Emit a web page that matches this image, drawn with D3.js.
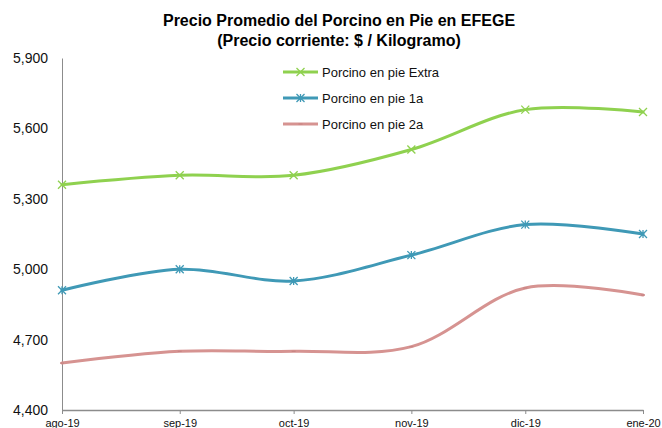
<!DOCTYPE html>
<html>
<head>
<meta charset="utf-8">
<script src="https://cdn.jsdelivr.net/npm/d3@7"></script>
<style>
  body { margin: 0; background: #fff; }
  svg { display: block; font-family: "Liberation Sans", Arial, sans-serif; }
</style>
</head>
<body>
<div id="chart-container"></div>
<script>
// Chart size and margins
const W = 662, H = 428;
const margin = { top: 58, right: 19, bottom: 18, left: 62 },
    width = W - margin.left - margin.right,
    height = H - margin.top - margin.bottom;

// Data
const months = ["2019-08-01", "2019-09-01", "2019-10-01", "2019-11-01", "2019-12-01", "2020-01-01"];
const monthLabels = ["ago-19", "sep-19", "oct-19", "nov-19", "dic-19", "ene-20"];
const extra = [5360, 5400, 5400, 5510, 5680, 5670];
const primera = [4910, 5000, 4950, 5060, 5190, 5150];
const segunda = [4600, 4650, 4650, 4670, 4920, 4890];
const yTicks = [4400, 4700, 5000, 5300, 5600, 5900];
const seriesNames = ["Porcino en pie Extra", "Porcino en pie 1a", "Porcino en pie 2a"];

const colors = ["#8fd14f", "#3f99b6", "#d69391"];
const markers = ["x", "star", "dash"];

function init() {
    const parse = d3.timeParse("%Y-%m-%d");
    const dates = months.map(parse);

    const svg = d3.select("#chart-container")
        .append("svg")
        .attr("width", W)
        .attr("height", H);

    // Title
    const title = svg.append("text")
        .attr("x", 339)
        .attr("text-anchor", "middle")
        .style("font-size", "16px")
        .style("font-weight", "bold");
    title.append("tspan").attr("x", 339).attr("y", 26).text("Precio Promedio del Porcino en Pie en EFEGE");
    title.append("tspan").attr("x", 339).attr("y", 46).text("(Precio corriente: $ / Kilogramo)");

    const g = svg.append("g")
        .attr("transform", `translate(${margin.left},${margin.top})`);

    // Scales
    const xScale = d3.scaleTime()
        .domain(d3.extent(dates))
        .range([0, width]);

    const yScale = d3.scaleLinear()
        .domain([4400, 5900])
        .range([height, 0]);

    // Y axis
    const yAxis = d3.axisLeft(yScale)
        .tickValues(yTicks)
        .tickSize(0)
        .tickPadding(14)
        .tickFormat(d3.format(","));

    const yG = g.append("g").call(yAxis);
    yG.select(".domain").attr("stroke", "#8c8c8c");
    yG.selectAll("text").style("font-size", "14px").attr("fill", "#111");

    // X axis
    const xAxis = d3.axisBottom(xScale)
        .tickValues(dates)
        .tickSize(4)
        .tickSizeOuter(0)
        .tickPadding(5)
        .tickFormat((d, i) => monthLabels[i]);

    const xG = g.append("g")
        .attr("transform", `translate(0,${height})`)
        .call(xAxis);
    xG.select(".domain").attr("stroke", "#8c8c8c").attr("stroke-width", 1.5);
    xG.selectAll(".tick line").attr("stroke", "#8c8c8c");
    xG.selectAll("text").style("font-size", "11px").attr("fill", "#111");

    // Lines
    const allSeries = [extra, primera, segunda];
    const line = d3.line()
        .x((d, i) => xScale(dates[i]))
        .y(d => yScale(d))
        .curve(d3.curveCatmullRom.alpha(0.5));

    // draw bottom series first so the top ones overlap
    allSeries.slice().reverse().forEach((vals, r) => {
        const k = allSeries.length - 1 - r;
        g.append("path")
            .datum(vals)
            .attr("fill", "none")
            .attr("stroke", colors[k])
            .attr("stroke-width", 3)
            .attr("stroke-linecap", "round")
            .attr("d", line);

        g.selectAll(".m" + k)
            .data(vals)
            .enter()
            .append("path")
            .attr("class", "m" + k)
            .attr("transform", (d, i) => `translate(${xScale(dates[i])},${yScale(d)})`)
            .attr("d", markerPath(markers[k]))
            .attr("fill", "none")
            .attr("stroke", markerColor(k))
            .attr("stroke-width", 1.3);
    });

    // Legend
    const legend = svg.append("g").attr("transform", "translate(283,72)");
    seriesNames.forEach((name, k) => {
        const row = legend.append("g").attr("transform", `translate(0,${k * 26})`);
        row.append("line")
            .attr("x1", 0).attr("x2", 35)
            .attr("stroke", colors[k])
            .attr("stroke-width", 3);
        row.append("path")
            .attr("transform", "translate(17.5,0)")
            .attr("d", markerPath(markers[k]))
            .attr("fill", "none")
            .attr("stroke", markerColor(k))
            .attr("stroke-width", 1.3);
        row.append("text")
            .attr("x", 39)
            .attr("y", 0)
            .attr("dy", "0.35em")
            .style("font-size", "13px")
            .attr("fill", "#111")
            .text(name);
    });
}

function markerColor(k) {
    return k === 2 ? "#c98584" : colors[k];
}

function markerPath(type) {
    const s = 4;
    if (type === "x") {
        return `M${-s},${-s}L${s},${s}M${-s},${s}L${s},${-s}`;
    }
    if (type === "star") {
        return `M${-s},${-s}L${s},${s}M${-s},${s}L${s},${-s}M0,${-s}L0,${s}`;
    }
    return `M${-2},0L${2},0`;
}

window.onload = init;
</script>
</body>
</html>
